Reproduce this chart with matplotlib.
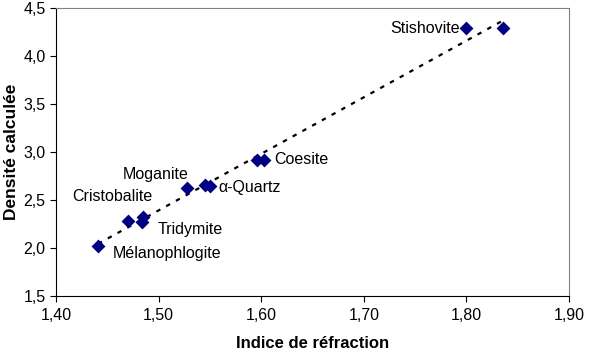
import numpy as np
import matplotlib
matplotlib.use("Agg")
import matplotlib.pyplot as plt
from matplotlib.ticker import FuncFormatter

plt.rcParams['font.family'] = ['Liberation Sans', 'DejaVu Sans']

# Data
refraction = [1.441, 1.470, 1.485, 1.484, 1.528, 1.545, 1.550, 1.596, 1.603, 1.800, 1.836]
density = [2.02, 2.28, 2.32, 2.27, 2.625, 2.66, 2.65, 2.92, 2.92, 4.29, 4.29]

labels = ["Stishovite", "Coesite", "\u03b1-Quartz", "Moganite", "Cristobalite", "Tridymite", "M\u00e9lanophlogite"]
label_idx = [9, 8, 6, 4, 1, 3, 0]
label_offsets = [(-7, 0), (10, 0), (8, -2), (-32, 13), (-15, 25), (15, -7), (15, -7)]
label_ha = ["right", "left", "left", "center", "center", "left", "left"]

fig = plt.figure(figsize=(5.9, 3.54), dpi=100)
ax = fig.add_axes([56/590, 1 - 296/354, (569-56)/590, (296-8)/354])

ax.scatter(refraction, density, marker='D', s=50, color='#000080', zorder=3, linewidths=0)

# Linear trendline
coef = np.polyfit(refraction, density, 1)
xs = np.array([min(refraction), max(refraction)])
ax.plot(xs, np.polyval(coef, xs), linestyle=(0, (2, 3)), color='black', linewidth=1.6, zorder=2)

for lab, i, off, ha in zip(labels, label_idx, label_offsets, label_ha):
    ax.annotate(lab, (refraction[i], density[i]), xytext=off, textcoords='offset pixels',
                ha=ha, va='center', fontsize=11.5)

ax.set_xlim(1.40, 1.90)
ax.set_ylim(1.5, 4.5)
ax.set_xticks(np.arange(1.40, 1.91, 0.10))
ax.set_yticks(np.arange(1.5, 4.51, 0.5))
ax.xaxis.set_major_formatter(FuncFormatter(lambda v, p: f"{v:.2f}".replace('.', ',')))
ax.yaxis.set_major_formatter(FuncFormatter(lambda v, p: f"{v:.1f}".replace('.', ',')))
ax.tick_params(direction='out', length=4, width=0.8, labelsize=11.5, color='black')
ax.tick_params(axis='x', pad=5)
ax.set_xlabel("Indice de r\u00e9fraction", fontsize=12, fontweight='bold', labelpad=9)
ax.set_ylabel("Densit\u00e9 calcul\u00e9e", fontsize=12.5, fontweight='bold', labelpad=3)

for s in ['top', 'right']:
    ax.spines[s].set_color('#808080')
for s in ['left', 'bottom']:
    ax.spines[s].set_color('black')
for s in ax.spines.values():
    s.set_linewidth(0.8)

fig.savefig("out.png", dpi=100)
